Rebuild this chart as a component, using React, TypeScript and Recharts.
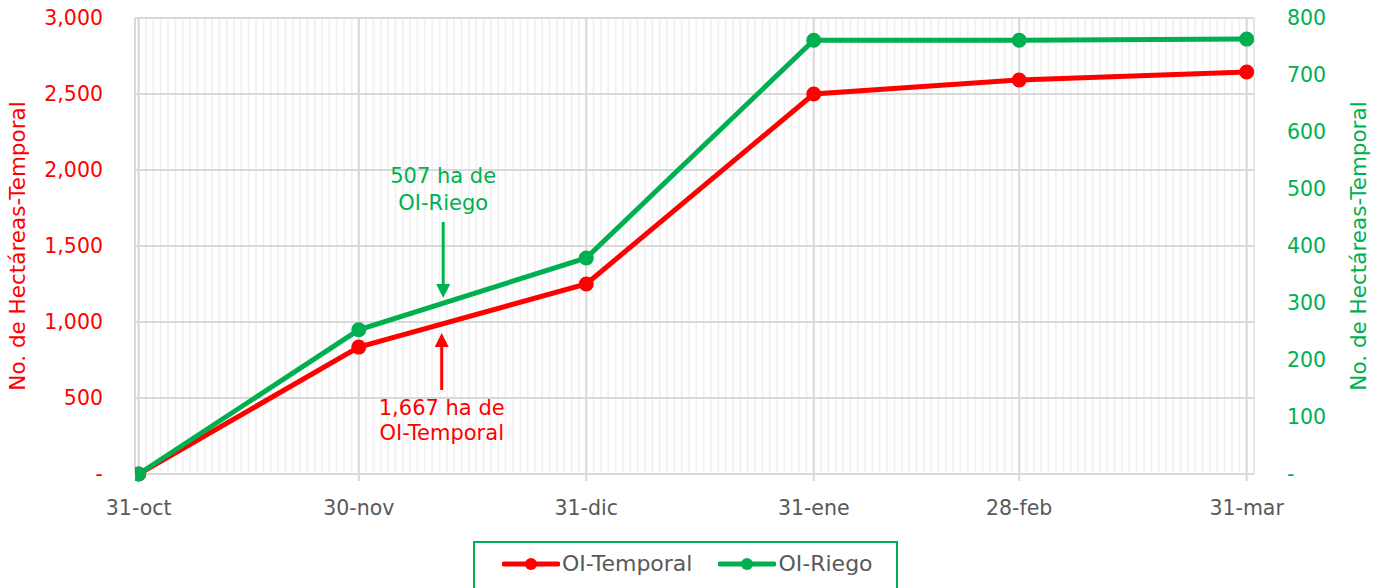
import {
  LineChart,
  Line,
  XAxis,
  YAxis,
  CartesianGrid,
  Legend,
  ReferenceLine,
} from "recharts";

// days counted from 31-oct
const days = [0, 30, 61, 92, 120, 151];
const dateLabels = ["31-oct", "30-nov", "31-dic", "31-ene", "28-feb", "31-mar"];
const temporal = [0, 835, 1250, 2500, 2592, 2645];
const riego = [0, 253, 379, 761, 761, 763];

const leftTicks = [0, 500, 1000, 1500, 2000, 2500, 3000];
const rightTicks = [0, 100, 200, 300, 400, 500, 600, 700, 800];
const minorDays = Array.from({ length: 152 }, (_, i) => i);

const RED = "#FF0000";
const GREEN = "#00B050";
const GREY_TEXT = "#595959";
const FONT = "'DejaVu Sans', sans-serif";
const X_DOMAIN = [-0.5, 152];

const chartData = days.map((d, i) => ({
  day: d,
  temporal: temporal[i],
  riego: riego[i],
}));

const labelFor = (d: number) => {
  const i = days.indexOf(d);
  return i >= 0 ? dateLabels[i] : "";
};

const fmt = (v: number) => (v === 0 ? "-" : v.toLocaleString("en-US"));

const AxisTitle = (color: string, side: "left" | "right") => (props: any) => {
  const vb = props.viewBox;
  const x = side === "left" ? 17 : 1358;
  const y = 246;
  return (
    <text
      x={x}
      y={y}
      transform={`rotate(-90 ${x} ${y})`}
      textAnchor="middle"
      dominantBaseline="central"
      fill={color}
      fontSize={21.5}
      fontFamily={FONT}
      data-top={vb.y}
    >
      No. de Hectáreas-Temporal
    </text>
  );
};

// arrow with two lines of text, drawn from the segment end points
const arrowShape =
  (color: string, lines: string[], textAbove: boolean) => (props: any) => {
    const { x1, y1, x2, y2 } = props;
    const tailY = textAbove ? Math.min(y1, y2) : Math.max(y1, y2);
    const tipY = textAbove ? Math.max(y1, y2) : Math.min(y1, y2);
    const dir = tipY > tailY ? 1 : -1;
    const head = 14;
    const x = (x1 + x2) / 2;
    const textY = textAbove ? [tailY - 46, tailY - 19] : [tailY + 18, tailY + 43];
    return (
      <g>
        <line x1={x} y1={tailY} x2={x} y2={tipY - dir * head} stroke={color} strokeWidth={3} />
        <polygon
          points={`${x - 7},${tipY - dir * head} ${x + 7},${tipY - dir * head} ${x},${tipY}`}
          fill={color}
        />
        {lines.map((t, i) => (
          <text
            key={t}
            x={x}
            y={textY[i]}
            textAnchor="middle"
            dominantBaseline="central"
            fill={color}
            fontSize={21}
            fontFamily={FONT}
          >
            {t}
          </text>
        ))}
      </g>
    );
  };

const LegendBox = () => (
  <div
    style={{
      width: 421,
      height: 50,
      border: `2px solid ${GREEN}`,
      display: "flex",
      alignItems: "flex-start",
      fontFamily: FONT,
      fontSize: 22,
      color: GREY_TEXT,
    }}
  >
    {[
      { name: "OI-Temporal", color: RED, ml: 27 },
      { name: "OI-Riego", color: GREEN, ml: 26 },
    ].map((item) => (
      <div
        key={item.name}
        style={{ display: "flex", alignItems: "center", marginLeft: item.ml, marginTop: 8 }}
      >
        <svg width={58} height={16}>
          <line x1={2} y1={8} x2={56} y2={8} stroke={item.color} strokeWidth={5} strokeLinecap="round" />
          <circle cx={29} cy={8} r={6} fill={item.color} />
        </svg>
        <span style={{ marginLeft: 2 }}>{item.name}</span>
      </div>
    ))}
  </div>
);

export default function App() {
  return (
    <div style={{ position: "absolute", left: 0, top: 0, background: "#fff" }}>
      <LineChart
        width={1377}
        height={588}
        data={chartData}
        margin={{ top: 18, right: 0, bottom: 74, left: 0 }}
      >
        <XAxis
          xAxisId="minor"
          dataKey="day"
          type="number"
          domain={X_DOMAIN}
          ticks={minorDays}
          interval={0}
          allowDataOverflow
          hide
        />
        <CartesianGrid xAxisId="minor" yAxisId="left" horizontal={false} stroke="#F2F2F2" strokeWidth={2} />
        <CartesianGrid yAxisId="left" stroke="#D9D9D9" strokeWidth={2} />
        <XAxis
          dataKey="day"
          type="number"
          domain={X_DOMAIN}
          allowDataOverflow
          ticks={days}
          tickFormatter={labelFor}
          interval={0}
          height={40}
          stroke="#D9D9D9"
          strokeWidth={2}
          tickSize={7}
          tickMargin={19}
          tick={{ fill: GREY_TEXT, fontSize: 20.5, fontFamily: FONT }}
        />
        <YAxis
          yAxisId="left"
          orientation="left"
          domain={[0, 3000]}
          ticks={leftTicks}
          tickFormatter={fmt}
          width={135}
          axisLine={{ stroke: "#D9D9D9", strokeWidth: 2 }}
          tickLine={false}
          tickSize={0}
          tickMargin={32}
          tick={{ fill: RED, fontSize: 20.5, fontFamily: FONT }}
          label={{ content: AxisTitle(RED, "left") }}
        />
        <YAxis
          yAxisId="right"
          orientation="right"
          domain={[0, 800]}
          ticks={rightTicks}
          tickFormatter={fmt}
          width={123}
          axisLine={{ stroke: "#E6E6E6", strokeWidth: 2 }}
          tickLine={false}
          tickSize={0}
          tickMargin={33}
          tick={{ fill: GREEN, fontSize: 20.5, fontFamily: FONT, textAnchor: "start" }}
          label={{ content: AxisTitle(GREEN, "right") }}
        />
        <Line
          yAxisId="left"
          dataKey="temporal"
          name="OI-Temporal"
          stroke={RED}
          strokeWidth={5}
          dot={{ r: 7.5, fill: RED, stroke: RED, strokeWidth: 0 }}
          isAnimationActive={false}
        />
        <Line
          yAxisId="right"
          dataKey="riego"
          name="OI-Riego"
          stroke={GREEN}
          strokeWidth={5}
          dot={{ r: 7.5, fill: GREEN, stroke: GREEN, strokeWidth: 0 }}
          isAnimationActive={false}
        />
        <ReferenceLine
          yAxisId="left"
          segment={[
            { x: 41.5, y: 1658 },
            { x: 41.5, y: 1158 },
          ]}
          shape={arrowShape(GREEN, ["507 ha de", "OI-Riego"], true)}
        />
        <ReferenceLine
          yAxisId="left"
          segment={[
            { x: 41.3, y: 553 },
            { x: 41.3, y: 928 },
          ]}
          shape={arrowShape(RED, ["1,667 ha de", "OI-Temporal"], false)}
        />
        <Legend
          verticalAlign="middle"
          align="center"
          wrapperStyle={{ top: 541, left: 473, width: 425 }}
          content={LegendBox}
        />
      </LineChart>
    </div>
  );
}
